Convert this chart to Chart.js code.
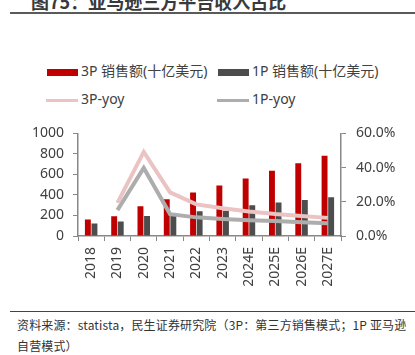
<!DOCTYPE html>
<html><head><meta charset="utf-8">
<script src="https://cdn.jsdelivr.net/npm/chart.js@4"></script>
<style>
html,body{margin:0;padding:0;background:#fff;}
body{width:415px;height:355px;overflow:hidden;position:relative;font-family:"Noto Sans","Noto Sans CJK SC",sans-serif;color:#404040;}
.abs{position:absolute;}
#title{left:31px;top:-9px;font-size:18px;line-height:20px;font-weight:bold;color:#3a3a3a;white-space:nowrap;font-family:"Noto Sans CJK SC","Noto Sans",sans-serif;}
#rule1{left:10px;top:12px;width:405px;height:2px;background:#5a5a5a;}
.lg{position:absolute;font-size:14px;line-height:18px;white-space:nowrap;color:#404040;}
.sw{position:absolute;}
#wrap{left:0;top:115px;width:415px;height:185px;}
#rule2{left:10px;top:311px;width:405px;height:1px;background:#444;}
#src{left:17px;top:314px;font-size:12px;line-height:21px;color:#333;white-space:nowrap;font-family:"Noto Sans CJK SC","Noto Sans",sans-serif;letter-spacing:0.15px;}
</style></head>
<body>
<div id="title" class="abs">图75：亚马逊三方平台收入占比</div>
<div id="rule1" class="abs"></div>
<div id="legend"></div>
<div id="wrap" class="abs"><canvas id="c"></canvas></div>
<div id="rule2" class="abs"></div>
<div id="src" class="abs">资料来源：statista，民生证券研究院（3P：第三方销售模式；1P 亚马逊<br>自营模式）</div>
<script>
const categories = ['2018','2019','2020','2021','2022','2023','2024E','2025E','2026E','2027E'];
const sales3P = [160,192,290,358,425,491,560,635,708,783];
const sales1P = [123,142,195,215,242,247,299,327,352,377];
const yoy3P = [null,19.4,49.2,25.5,18.5,16.2,14.3,12.8,11.7,10.6];
const yoy1P = [null,15.1,39.8,12.8,10.9,10.0,9.2,8.7,8.1,7.5];
const leftTicks = [0,200,400,600,800,1000];
const rightTicks = [0,20,40,60];
const names = ['3P 销售额(十亿美元)','1P 销售额(十亿美元)','3P-yoy','1P-yoy'];
const colors = ['#C00000','#4D4D4D','#EBC3C3','#ADADAD'];

// legend (HTML)
const lg = document.getElementById('legend');
const legendPos = [
  {x:47,y:72,bar:true},{x:218,y:72,bar:true},
  {x:46,y:100,bar:false},{x:217,y:100,bar:false}
];
names.forEach((n,i)=>{
  const p = legendPos[i];
  const sw = document.createElement('div');
  sw.className='sw';
  sw.style.left=p.x+'px';
  sw.style.width=(p.bar?31:32)+'px';
  sw.style.height=(p.bar?7:3)+'px';
  sw.style.top=(p.y-(p.bar?3.5:1.5))+'px';
  sw.style.background=colors[i];
  lg.appendChild(sw);
  const t = document.createElement('div');
  t.className='lg';
  t.textContent=n;
  t.style.left=(p.x+(p.bar?34:35))+'px';
  t.style.top=(p.y-10)+'px';
  lg.appendChild(t);
});

const FONT = {family:'"Noto Sans","Noto Sans CJK SC",sans-serif', size:14};
const axisCol = '#888888';
new Chart(document.getElementById('c'), {
  type:'bar',
  data:{
    labels:categories,
    datasets:[
      {type:'line',label:names[2],data:yoy3P,yAxisID:'y1',borderColor:colors[2],borderWidth:4,pointRadius:0,tension:0,order:0,spanGaps:false},
      {type:'line',label:names[3],data:yoy1P,yAxisID:'y1',borderColor:colors[3],borderWidth:4,pointRadius:0,tension:0,order:0},
      {label:names[0],data:sales3P,backgroundColor:colors[0],yAxisID:'y',categoryPercentage:0.5,barPercentage:0.9,order:1},
      {label:names[1],data:sales1P,backgroundColor:colors[1],yAxisID:'y',categoryPercentage:0.5,barPercentage:0.9,order:1}
    ]
  },
  options:{
    responsive:true,maintainAspectRatio:false,animation:false,
    layout:{padding:{top:15,left:0,right:0,bottom:0}},
    plugins:{legend:{display:false},tooltip:{enabled:false}},
    scales:{
      x:{
        offset:true,
        grid:{display:true,drawOnChartArea:false,drawTicks:true,tickLength:5,color:axisCol,offset:true},
        border:{display:true,color:axisCol,width:1.5},
        ticks:{color:'#404040',font:FONT,minRotation:90,maxRotation:90,padding:6,autoSkip:false},
        afterFit:s=>{s.height=64;}
      },
      y:{
        position:'left',min:0,max:1000,
        afterBuildTicks:s=>{s.ticks=leftTicks.map(v=>({value:v}));},
        grid:{display:true,drawOnChartArea:false,drawTicks:true,tickLength:5,color:axisCol},
        border:{display:true,color:axisCol,width:1.5},
        ticks:{color:'#404040',font:FONT,padding:9,callback:v=>String(v)},
        afterFit:s=>{s.width=78;}
      },
      y1:{
        position:'right',min:0,max:60,
        afterBuildTicks:s=>{s.ticks=rightTicks.map(v=>({value:v}));},
        grid:{display:true,drawOnChartArea:false,drawTicks:true,tickLength:5,color:axisCol},
        border:{display:true,color:axisCol,width:1.5},
        ticks:{color:'#404040',font:FONT,padding:10,callback:v=>Number(v).toFixed(1)+'%'},
        afterFit:s=>{s.width=74;}
      }
    }
  }
});
</script>
</body></html>
